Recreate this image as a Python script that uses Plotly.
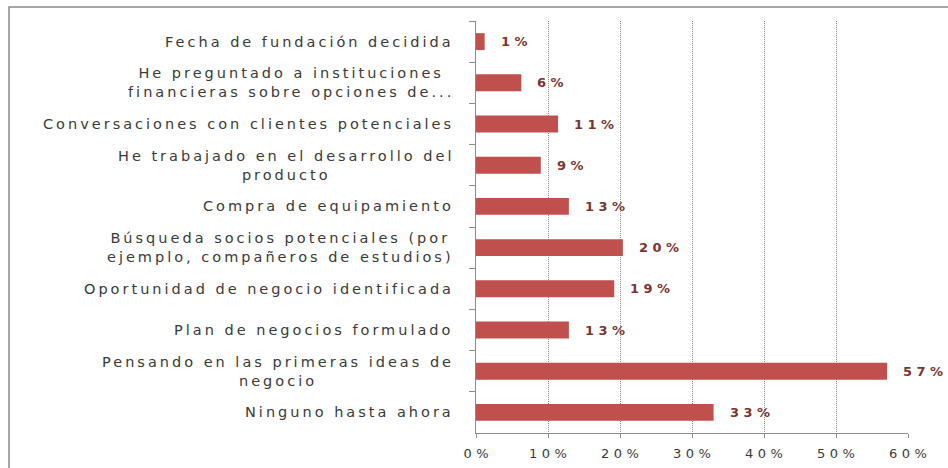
import plotly.graph_objects as go

categories = [
    "Fecha de fundación decidida",
    "He preguntado a instituciones<br>financieras sobre opciones de...",
    "Conversaciones con clientes potenciales",
    "He trabajado en el desarrollo del<br>producto",
    "Compra de equipamiento",
    "Búsqueda socios potenciales (por<br>ejemplo, compañeros de estudios)",
    "Oportunidad de negocio identificada",
    "Plan de negocios formulado",
    "Pensando en las primeras ideas de<br>negocio",
    "Ninguno hasta ahora",
]
values = [1.2, 6.3, 11.4, 9.0, 12.9, 20.4, 19.2, 12.9, 57.1, 33.0]
x_ticks = [0, 10, 20, 30, 40, 50, 60]
x_tick_labels = ["0%", "10%", "20%", "30%", "40%", "50%", "60%"]

BAR = "#c0504d"
LABEL = "#7b3432"
GRID = "#8c8c8c"
TXT = "#3a3a3a"
FONT = "DejaVu Sans"


def spaced(s, px):
    # letter-spacing on all but the last glyph so no trailing gap is added
    if len(s) < 2:
        return s
    return f'<span style="letter-spacing:{px}px">{s[:-1]}</span>{s[-1]}'


fig = go.Figure()
fig.add_trace(go.Bar(
    x=values, y=categories, orientation="h",
    marker=dict(color=BAR, line=dict(width=0)),
    hoverinfo="skip",
))

annotations = []
for c, v in zip(categories, values):
    lines = c.split("<br>")
    annotations.append(dict(
        x=0, xref="paper", y=c, yref="y",
        text="<br>".join(spaced(l, 3.0) for l in lines),
        xanchor="right", yanchor="middle", align="center",
        xshift=-23, showarrow=False,
        font=dict(family=FONT, size=14.5, color=TXT),
    ))
    annotations.append(dict(
        x=v, xref="x", y=c, yref="y",
        text="<b>" + spaced(f"{round(v)}%", 4.5) + "</b>",
        xanchor="left", yanchor="middle",
        xshift=14, showarrow=False,
        font=dict(family=FONT, size=13, color=LABEL),
    ))

fig.update_layout(
    width=948, height=468,
    margin=dict(l=476, r=40, t=21, b=35, autoexpand=False),
    paper_bgcolor="white", plot_bgcolor="white",
    showlegend=False,
    bargap=0.59,
    annotations=annotations,
    font=dict(family=FONT, size=13, color=TXT),
    shapes=[dict(
        type="rect", xref="paper", yref="paper",
        x0=-467 / 432, x1=1 + 45 / 432,
        y0=-60 / 412, y1=1 + 14 / 412,
        line=dict(color="#8a8a8a", width=1.5),
        fillcolor="rgba(0,0,0,0)", layer="below",
    )],
)
fig.update_xaxes(
    range=[0, 60], tickvals=x_ticks,
    ticktext=[spaced(t, 4.5) for t in x_tick_labels],
    showgrid=True, gridcolor=GRID, griddash="1px,1px", gridwidth=1,
    showline=True, linecolor=GRID, linewidth=1,
    ticks="outside", ticklen=4, tickcolor=GRID,
    ticklabelstandoff=4, automargin=False,
    tickfont=dict(family=FONT, size=13, color=TXT),
    zeroline=False, fixedrange=True,
)
fig.update_yaxes(
    autorange="reversed", showticklabels=False, automargin=False,
    ticks="outside", tickson="boundaries", ticklen=6, tickcolor=GRID,
    showline=True, linecolor=GRID, linewidth=1,
    showgrid=False, zeroline=False, fixedrange=True,
)

fig.write_html(
    "out.html",
    config={"displayModeBar": False},
    post_script="document.body.style.margin='0';document.body.style.overflow='hidden';",
)
